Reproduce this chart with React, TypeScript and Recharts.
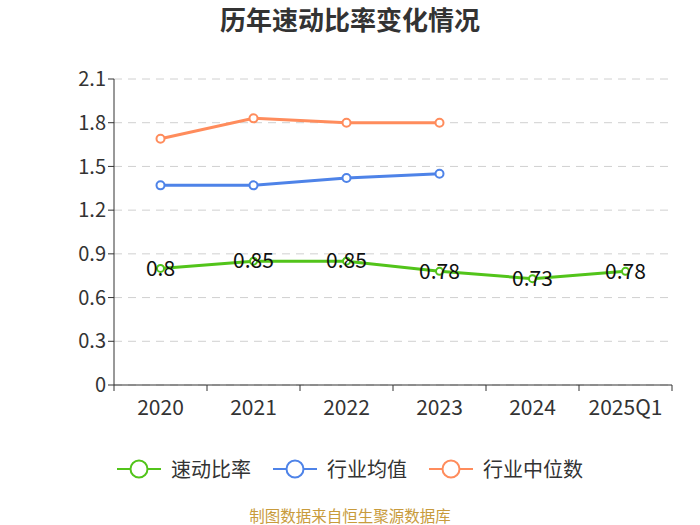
import React from 'react';
import { CartesianGrid, Line, LineChart, LabelList, XAxis, YAxis } from 'recharts';

const categories = ['2020', '2021', '2022', '2023', '2024', '2025Q1'];
const quickRatio = [0.8, 0.85, 0.85, 0.78, 0.73, 0.78];
const industryAvg = [1.37, 1.37, 1.42, 1.45, null, null];
const industryMedian = [1.69, 1.83, 1.8, 1.8, null, null];
const yTicks = [0, 0.3, 0.6, 0.9, 1.2, 1.5, 1.8, 2.1];

const seriesNames = ['速动比率', '行业均值', '行业中位数'];
const seriesKeys = ['quick', 'avg', 'median'];
const seriesColors = ['#52c41a', '#4e83e8', '#ff8c5c'];

const data = categories.map((c, i) => ({
  name: c,
  quick: quickRatio[i],
  avg: industryAvg[i],
  median: industryMedian[i],
}));

const W = 700;
const H = 525;
const margin = { top: 79, right: 28, bottom: 110, left: 54 };
const yAxisWidth = 60;
const plotWidth = W - margin.left - yAxisWidth - margin.right;
const band = plotWidth / categories.length;
const font = '"Noto Sans CJK SC", "Noto Sans", sans-serif';

const XTick = (props: any) => {
  const { x, y, payload, index } = props;
  const isLast = index === categories.length - 1;
  const top = y - 8;
  return (
    <g>
      <line x1={x - band / 2} x2={x - band / 2} y1={top} y2={top + 6} stroke="#333" />
      {isLast && <line x1={x + band / 2} x2={x + band / 2} y1={top} y2={top + 6} stroke="#333" />}
      <text x={x} y={y + 22} textAnchor="middle" fill="#333" fontSize={21} fontFamily={font}>
        {payload.value}
      </text>
    </g>
  );
};

const ValueLabel = (props: any) => {
  const { x, y, value } = props;
  if (value == null) return null;
  return (
    <text x={x} y={y} dy="0.35em" textAnchor="middle" fill="#111" fontSize={21} fontFamily={font}>
      {value}
    </text>
  );
};

const App = () => {
  return (
    <div style={{ position: 'absolute', left: 0, top: 0, width: W, height: H, background: '#fff', fontFamily: font, overflow: 'hidden' }}>
      <div
        style={{
          position: 'absolute',
          top: 2,
          width: W,
          textAlign: 'center',
          fontSize: 26,
          lineHeight: '34px',
          fontWeight: 'bold',
          color: '#333',
        }}
      >
        历年速动比率变化情况
      </div>
      <LineChart width={W} height={H} data={data} margin={margin}>
        <CartesianGrid vertical={false} stroke="#d0d0d0" strokeDasharray="8 6" />
        <XAxis
          dataKey="name"
          axisLine={{ stroke: '#333' }}
          tickLine={false}
          tick={<XTick />}
          interval={0}
          height={30}
          padding={{ left: band / 2, right: band / 2 }}
        />
        <YAxis
          domain={[0, 2.1]}
          ticks={yTicks}
          width={yAxisWidth}
          axisLine={{ stroke: '#333' }}
          tickLine={{ stroke: '#333' }}
          tickSize={6}
          tick={{ fill: '#333', fontSize: 20, fontFamily: font }}
          interval={0}
        />
        <Line
          dataKey="median"
          stroke={seriesColors[2]}
          strokeWidth={3}
          dot={{ r: 4, fill: '#fff', stroke: seriesColors[2], strokeWidth: 2 }}
          activeDot={false}
          isAnimationActive={false}
        />
        <Line
          dataKey="avg"
          stroke={seriesColors[1]}
          strokeWidth={3}
          dot={{ r: 4, fill: '#fff', stroke: seriesColors[1], strokeWidth: 2 }}
          activeDot={false}
          isAnimationActive={false}
        />
        <Line
          dataKey="quick"
          stroke={seriesColors[0]}
          strokeWidth={3}
          dot={{ r: 3.5, fill: '#fff', stroke: seriesColors[0], strokeWidth: 2 }}
          activeDot={false}
          isAnimationActive={false}
        >
          <LabelList dataKey="quick" content={<ValueLabel />} />
        </Line>
      </LineChart>
      <div
        style={{
          position: 'absolute',
          top: 454,
          width: W,
          display: 'flex',
          justifyContent: 'center',
          gap: 22,
        }}
      >
        {seriesNames.map((n, i) => (
          <div key={seriesKeys[i]} style={{ display: 'flex', alignItems: 'center' }}>
            <svg width={44} height={28}>
              <line x1={0} x2={44} y1={14} y2={14} stroke={seriesColors[i]} strokeWidth={2} />
              <circle cx={22} cy={14} r={8.5} fill="#fff" stroke={seriesColors[i]} strokeWidth={2} />
            </svg>
            <span style={{ marginLeft: 10, fontSize: 20, color: '#333' }}>{n}</span>
          </div>
        ))}
      </div>
      <div
        style={{
          position: 'absolute',
          top: 506,
          width: W,
          textAlign: 'center',
          fontSize: 15.5,
          lineHeight: '19px',
          color: '#c89b3c',
        }}
      >
        制图数据来自恒生聚源数据库
      </div>
    </div>
  );
};

export default App;
